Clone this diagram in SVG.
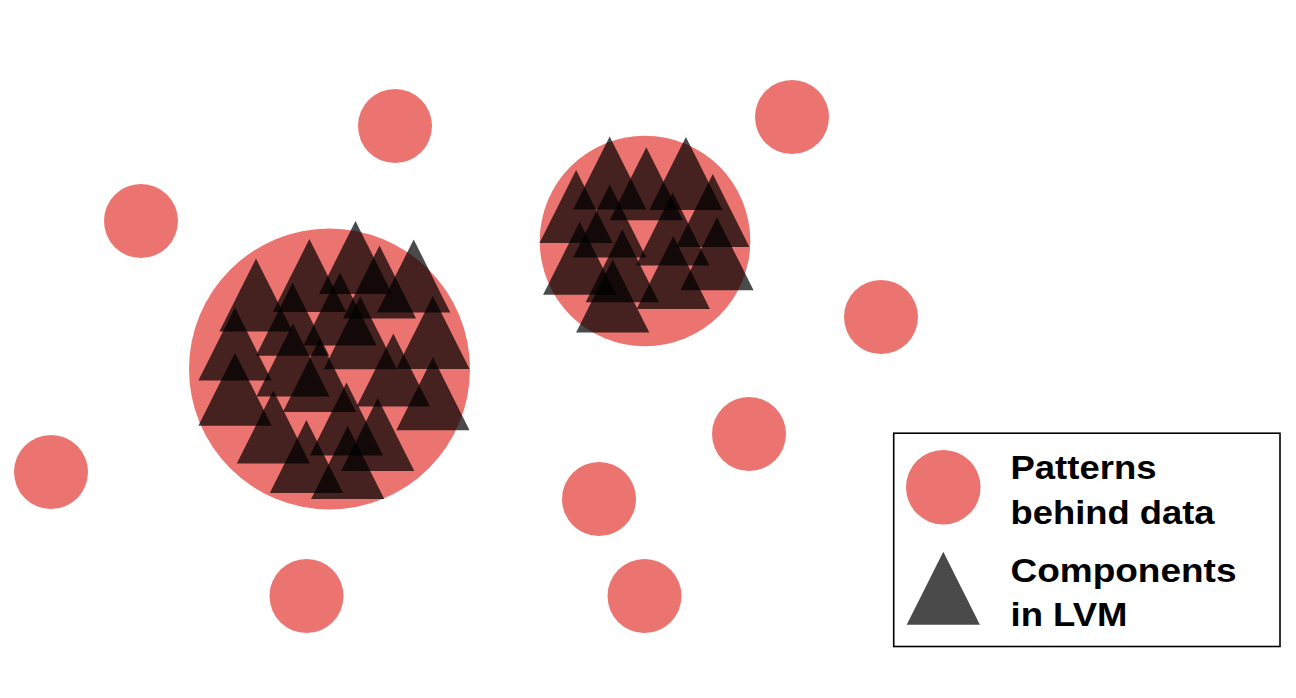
<svg xmlns="http://www.w3.org/2000/svg" xmlns:xlink="http://www.w3.org/1999/xlink" width="1296" height="698" viewBox="0 0 1296 698">
  <style>
    .pat { fill: #ec7470; }
    .comp { fill: #000000; fill-opacity: 0.71; }
    .lbl { font-family: "Liberation Sans", Arial, sans-serif; font-weight: bold; font-size: 33px; fill: #000000; }
  </style>
  <defs>
    <path id="tri" d="M0,0 L36.6,73 L-36.6,73 Z"/>
  </defs>
  <rect width="1296" height="698" fill="#ffffff"/>

  <g id="patterns">
    <circle class="pat" cx="395" cy="126" r="37"/>
    <circle class="pat" cx="141" cy="221" r="37"/>
    <circle class="pat" cx="792" cy="117" r="37"/>
    <circle class="pat" cx="881" cy="317" r="37"/>
    <circle class="pat" cx="51" cy="472" r="37"/>
    <circle class="pat" cx="749" cy="434" r="37"/>
    <circle class="pat" cx="599" cy="499" r="37"/>
    <circle class="pat" cx="306.5" cy="596" r="37"/>
    <circle class="pat" cx="644.5" cy="596" r="37"/>
    <circle id="pattern-big-left" class="pat" cx="329.5" cy="369" r="140.5"/>
    <circle id="pattern-big-right" class="pat" cx="645" cy="241" r="105.3"/>
  </g>

  <g id="components-left" class="comp">
    <use xlink:href="#tri" href="#tri" x="355.5" y="221"/>
    <use xlink:href="#tri" href="#tri" x="413.7" y="239.5"/>
    <use xlink:href="#tri" href="#tri" x="309.4" y="239"/>
    <use xlink:href="#tri" href="#tri" x="379.5" y="245.5"/>
    <use xlink:href="#tri" href="#tri" x="256" y="258.6"/>
    <use xlink:href="#tri" href="#tri" x="340" y="272.6"/>
    <use xlink:href="#tri" href="#tri" x="292.6" y="282.7"/>
    <use xlink:href="#tri" href="#tri" x="432.9" y="295.9"/>
    <use xlink:href="#tri" href="#tri" x="235" y="307.6"/>
    <use xlink:href="#tri" href="#tri" x="360.3" y="296.3"/>
    <use xlink:href="#tri" href="#tri" x="293" y="323.6"/>
    <use xlink:href="#tri" href="#tri" x="393.3" y="333.5"/>
    <use xlink:href="#tri" href="#tri" x="235" y="352.7"/>
    <use xlink:href="#tri" href="#tri" x="432.9" y="357.2"/>
    <use xlink:href="#tri" href="#tri" x="319.5" y="339"/>
    <use xlink:href="#tri" href="#tri" x="346.5" y="382.4"/>
    <use xlink:href="#tri" href="#tri" x="273.4" y="390.5"/>
    <use xlink:href="#tri" href="#tri" x="377.7" y="397.9"/>
    <use xlink:href="#tri" href="#tri" x="306.4" y="420"/>
    <use xlink:href="#tri" href="#tri" x="347.7" y="426"/>
  </g>

  <g id="components-right" class="comp">
    <use xlink:href="#tri" href="#tri" x="609.7" y="136.4"/>
    <use xlink:href="#tri" href="#tri" x="685.9" y="137.1"/>
    <use xlink:href="#tri" href="#tri" x="646.3" y="147.3"/>
    <use xlink:href="#tri" href="#tri" x="576.1" y="169.9"/>
    <use xlink:href="#tri" href="#tri" x="712.8" y="174"/>
    <use xlink:href="#tri" href="#tri" x="609.7" y="184.5"/>
    <use xlink:href="#tri" href="#tri" x="672.7" y="192.4"/>
    <use xlink:href="#tri" href="#tri" x="579.7" y="221.8"/>
    <use xlink:href="#tri" href="#tri" x="622.3" y="229.3"/>
    <use xlink:href="#tri" href="#tri" x="717" y="217.3"/>
    <use xlink:href="#tri" href="#tri" x="673.3" y="236"/>
    <use xlink:href="#tri" href="#tri" x="612.7" y="259.6"/>
  </g>

  <g id="legend">
    <rect x="893.7" y="433.2" width="386.3" height="213.3" fill="#ffffff" stroke="#000000" stroke-width="1.6"/>
    <g id="legend-pattern">
      <circle class="pat" cx="943.3" cy="487.2" r="37.3"/>
      <text class="lbl" x="1010.5" y="478.5" textLength="146" lengthAdjust="spacingAndGlyphs">Patterns</text>
      <text class="lbl" x="1010.5" y="523.8" textLength="204" lengthAdjust="spacingAndGlyphs">behind data</text>
    </g>
    <g id="legend-component">
      <use xlink:href="#tri" href="#tri" class="comp" x="943.3" y="551.8"/>
      <text class="lbl" x="1010.5" y="581.5" textLength="226" lengthAdjust="spacingAndGlyphs">Components</text>
      <text class="lbl" x="1010.5" y="625.5" textLength="117" lengthAdjust="spacingAndGlyphs">in LVM</text>
    </g>
  </g>
</svg>
